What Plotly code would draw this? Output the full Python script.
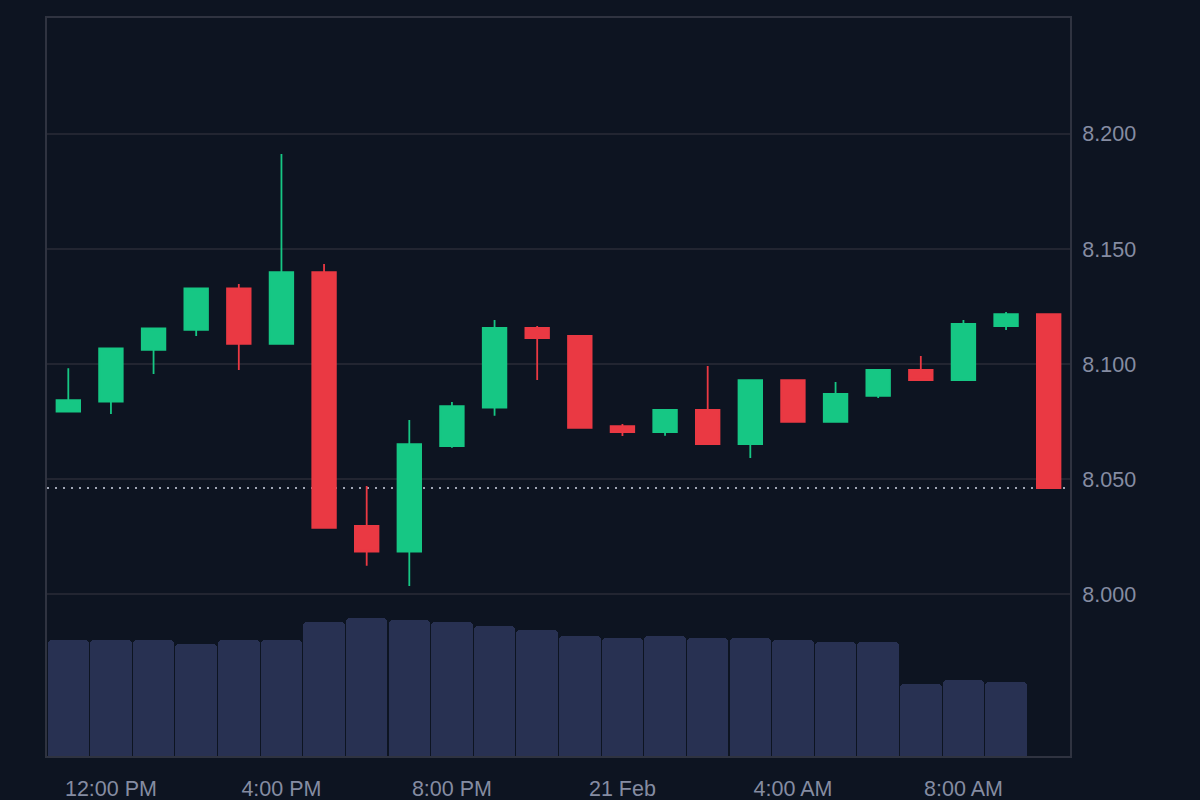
import plotly.graph_objects as go
import pandas as pd

# ---- data ----
times = pd.date_range("2024-02-20 11:00", periods=24, freq="h")
opens = [8.0793, 8.0836, 8.1061, 8.1148, 8.1329, 8.1088, 8.1399, 8.0296,
         8.0184, 8.0643, 8.0810, 8.1157, 8.1122, 8.0730, 8.0704, 8.0800,
         8.0652, 8.0930, 8.0748, 8.0861, 8.0974, 8.0930, 8.1165, 8.1217]
highs = [8.0981, 8.1068, 8.1155, 8.1329, 8.1348, 8.1913, 8.1435, 8.0470,
         8.0757, 8.0835, 8.1191, 8.1165, 8.1122, 8.0739, 8.0800, 8.0991,
         8.0930, 8.0930, 8.0922, 8.0974, 8.1035, 8.1191, 8.1226, 8.1217]
lows = [8.0793, 8.0783, 8.0957, 8.1122, 8.0974, 8.1088, 8.0288, 8.0123,
        8.0035, 8.0636, 8.0775, 8.0930, 8.0722, 8.0687, 8.0688, 8.0652,
        8.0591, 8.0748, 8.0748, 8.0852, 8.0930, 8.0930, 8.1148, 8.0461]
closes = [8.0843, 8.1068, 8.1155, 8.1329, 8.1088, 8.1399, 8.0288, 8.0184,
          8.0652, 8.0817, 8.1157, 8.1113, 8.0722, 8.0704, 8.0800, 8.0652,
          8.0930, 8.0748, 8.0870, 8.0974, 8.0930, 8.1174, 8.1217, 8.0461]
volumes = [116, 116, 116, 112, 116, 116, 134, 138, 136, 134, 130, 126,
           120, 118, 120, 118, 118, 116, 114, 114, 72, 76, 74, None]

price_ticks = [8.000, 8.050, 8.100, 8.150, 8.200]
x_tick_times = ["2024-02-20 12:00", "2024-02-20 16:00", "2024-02-20 20:00",
                "2024-02-21 00:00", "2024-02-21 04:00", "2024-02-21 08:00"]
x_tick_labels = ["12:00 PM", "4:00 PM", "8:00 PM", "21 Feb", "4:00 AM", "8:00 AM"]

# ---- style ----
BG = "#0d1421"
GREEN = "#16c784"
RED = "#ea3943"
GRID = "#222531"
FRAME = "#2f3340"
TEXT = "#858ca2"
VOL = "#283152"
FONT = "Liberation Sans, Arial, sans-serif"

fig = go.Figure()

fig.add_trace(go.Bar(
    x=times, y=volumes, yaxis="y2",
    marker=dict(color=VOL, line=dict(width=0), cornerradius=4),
    width=3600000 * 0.975,
    hoverinfo="skip", showlegend=False,
))

fig.add_shape(type="line", xref="paper", x0=0, x1=1, yref="y",
              y0=closes[-1], y1=closes[-1], layer="below",
              line=dict(color="#a0a6b5", width=2, dash="2px,6px"))

fig.add_trace(go.Candlestick(
    x=times, open=opens, high=highs, low=lows, close=closes,
    increasing=dict(line=dict(color=GREEN, width=1.8), fillcolor=GREEN),
    decreasing=dict(line=dict(color=RED, width=1.8), fillcolor=RED),
    whiskerwidth=0,
    showlegend=False,
))

vmax = max(v for v in volumes if v is not None)

fig.update_layout(
    width=1200, height=800,
    paper_bgcolor=BG, plot_bgcolor=BG,
    margin=dict(l=47, r=130, t=18, b=44),
    font=dict(family=FONT, color=TEXT, size=21),
    boxgap=0.21,
    bargap=0,
    xaxis=dict(
        type="date", automargin=False,
        range=["2024-02-20 10:30", "2024-02-21 10:30"],
        rangeslider=dict(visible=False),
        tickvals=x_tick_times, ticktext=x_tick_labels,
        showgrid=False, zeroline=False,
        showline=True, linecolor=FRAME, linewidth=2, mirror=True,
        ticks="", ticklabelstandoff=12,
        tickfont=dict(size=21.5, color=TEXT),
    ),
    yaxis=dict(
        side="right", automargin=False,
        range=[7.9296, 8.2504],
        tickvals=price_ticks, tickformat=".3f",
        showgrid=True, gridcolor=GRID, gridwidth=2,
        zeroline=False,
        showline=True, linecolor=FRAME, linewidth=2, mirror=True,
        ticks="", ticklabelstandoff=6,
        tickfont=dict(size=21.5, color=TEXT),
    ),
    yaxis2=dict(
        overlaying="y", side="left",
        range=[0, vmax * 738 / 138],
        showgrid=False, showticklabels=False, zeroline=False,
        showline=False,
    ),
)

fig.write_html("out.html")
